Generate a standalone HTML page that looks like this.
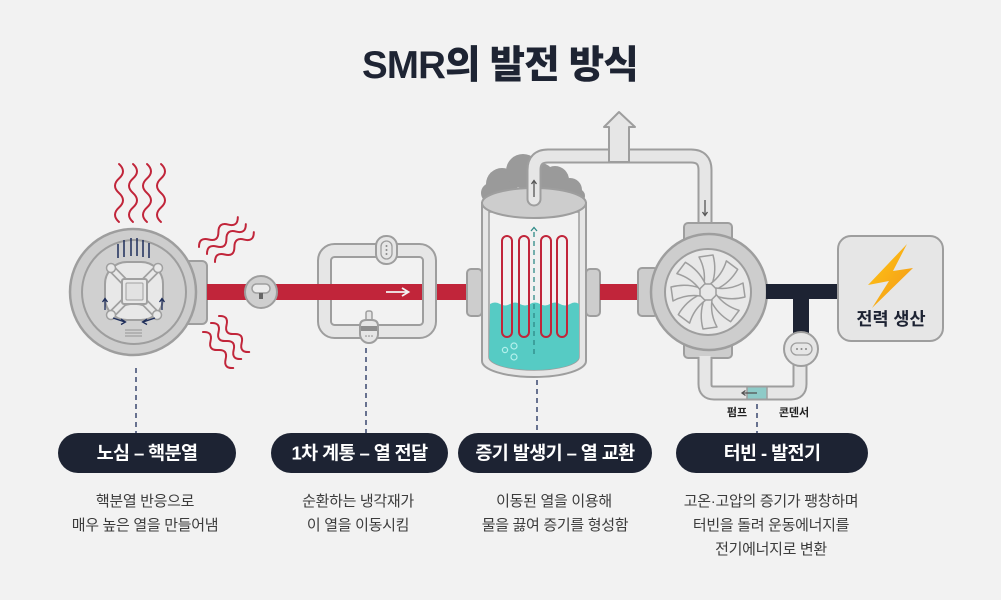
<!DOCTYPE html>
<html><head><meta charset="utf-8">
<style>
html,body{margin:0;padding:0;background:#f2f2f2;}
svg{display:block;}
text{font-family:"Liberation Sans","Noto Sans CJK KR",sans-serif;}
</style></head>
<body>
<svg width="1001" height="600" viewBox="0 0 1001 600" xmlns="http://www.w3.org/2000/svg">
<defs>
<linearGradient id="bolt" x1="0" y1="0" x2="1" y2="1">
<stop offset="0" stop-color="#ffc914"/><stop offset="1" stop-color="#f39419"/>
</linearGradient>
</defs>
<rect width="1001" height="600" fill="#f2f2f2"/>

<!-- Title -->
<text x="500" y="78" text-anchor="middle" font-size="38.5" font-weight="800" fill="#1e2433" letter-spacing="-0.8">SMR의 발전 방식</text>

<!-- Heat waves -->
<g fill="none" stroke="#c1253a" stroke-width="2" stroke-linecap="round">
<path transform="translate(119,222) rotate(-90)" d="M0 0 q7.25 -8 14.5 0 t14.5 0 t14.5 0 t14.5 0"/>
<path transform="translate(133,222) rotate(-90)" d="M0 0 q7.25 -8 14.5 0 t14.5 0 t14.5 0 t14.5 0"/>
<path transform="translate(147,222) rotate(-90)" d="M0 0 q7.25 -8 14.5 0 t14.5 0 t14.5 0 t14.5 0"/>
<path transform="translate(161,222) rotate(-90)" d="M0 0 q7.25 -8 14.5 0 t14.5 0 t14.5 0 t14.5 0"/>
<path transform="translate(199,247) rotate(-37.6)" d="M0 0 q6.1 -8 12.25 0 t12.25 0 t12.25 0 t12.25 0"/>
<path transform="translate(207,254) rotate(-37.6)" d="M0 0 q6.1 -8 12.25 0 t12.25 0 t12.25 0 t12.25 0"/>
<path transform="translate(215,262) rotate(-37.6)" d="M0 0 q6.1 -8 12.25 0 t12.25 0 t12.25 0 t12.25 0"/>
<path transform="translate(203,332) rotate(50)" d="M0 0 q5.9 -8 11.75 0 t11.75 0 t11.75 0 t11.75 0"/>
<path transform="translate(211,323) rotate(50)" d="M0 0 q5.9 -8 11.75 0 t11.75 0 t11.75 0 t11.75 0"/>
<path transform="translate(219,316) rotate(50)" d="M0 0 q5.9 -8 11.75 0 t11.75 0 t11.75 0 t11.75 0"/>
</g>

<!-- Reactor -->
<rect x="180" y="261" width="27" height="63" rx="5" fill="#cdcdcd" stroke="#9e9e9e" stroke-width="2"/>
<circle cx="133" cy="292" r="63" fill="#cdcdcd" stroke="#9e9e9e" stroke-width="2.5"/>
<circle cx="134" cy="292" r="52" fill="#d0d0d0" stroke="#9e9e9e" stroke-width="2"/>
<rect x="105" y="262" width="58" height="58" rx="22" fill="#e8e8e8" stroke="#a0a0a0" stroke-width="2"/>
<path d="M112 312 Q134 296 156 312" fill="none" stroke="#a0a0a0" stroke-width="1.5"/>
<g stroke-linecap="round">
<line x1="111" y1="268" x2="157" y2="315" stroke="#a0a0a0" stroke-width="8"/>
<line x1="158" y1="268" x2="111" y2="315" stroke="#a0a0a0" stroke-width="8"/>
<line x1="111" y1="268" x2="157" y2="315" stroke="#e8e8e8" stroke-width="4.5"/>
<line x1="158" y1="268" x2="111" y2="315" stroke="#e8e8e8" stroke-width="4.5"/>
</g>
<g fill="#e8e8e8" stroke="#a0a0a0" stroke-width="1.5">
<circle cx="111" cy="268" r="4.5"/><circle cx="158" cy="268" r="4.5"/>
<circle cx="111" cy="315" r="4.5"/><circle cx="157" cy="315" r="4.5"/>
<rect x="122" y="279" width="25" height="25" rx="2" stroke-width="2"/>
<rect x="126" y="283" width="17" height="17" rx="1" fill="#e2e2e2" stroke-width="1"/>
</g>
<g stroke="#1e2d5a" stroke-width="1.5">
<line x1="118" y1="244" x2="118" y2="258"/><line x1="124" y1="240" x2="124" y2="257"/>
<line x1="131" y1="238" x2="131" y2="256"/><line x1="137" y1="238" x2="137" y2="256"/>
<line x1="143" y1="240" x2="143" y2="257"/><line x1="149" y1="243" x2="149" y2="258"/>
</g>
<g stroke="#1e2d5a" stroke-width="1.3" fill="none">
<line x1="105" y1="310" x2="105" y2="299"/><path d="M102.5 302 L105 298.5 L107.5 302"/>
<line x1="162" y1="310" x2="162" y2="299"/><path d="M159.5 302 L162 298.5 L164.5 302"/>
<line x1="113" y1="318" x2="125" y2="322"/><path d="M121 319 L125.5 322 L121 324.5"/>
<line x1="155" y1="318" x2="143" y2="322"/><path d="M147 319 L142.5 322 L147 324.5"/>
</g>
<g stroke="#a0a0a0" stroke-width="1.2">
<line x1="125" y1="330" x2="142" y2="330"/><line x1="125" y1="333" x2="142" y2="333"/><line x1="125" y1="336" x2="142" y2="336"/>
</g>

<!-- Loop (primary) -->
<rect x="324.5" y="250.5" width="105" height="81" rx="10" fill="none" stroke="#9e9e9e" stroke-width="15"/>
<rect x="324.5" y="250.5" width="105" height="81" rx="10" fill="none" stroke="#e6e6e6" stroke-width="11"/>

<!-- red pipe 1 -->
<rect x="207" y="284" width="261" height="16" fill="#c1253a"/>
<!-- right loop segment over red -->
<rect x="423" y="281" width="13" height="22" fill="#e6e6e6"/>
<line x1="423" y1="281" x2="423" y2="303" stroke="#9e9e9e" stroke-width="2"/>
<line x1="436" y1="281" x2="436" y2="303" stroke="#9e9e9e" stroke-width="2"/>
<!-- arrow on red -->
<g stroke="#f2f2f2" stroke-width="1.8" fill="none">
<line x1="386" y1="292" x2="408" y2="292"/><path d="M402 288 L408.5 292 L402 296"/>
</g>

<!-- valve on red -->
<circle cx="261" cy="292" r="16" fill="#cfcfcf" stroke="#9e9e9e" stroke-width="2"/>
<rect x="252" y="284" width="18" height="9" rx="4.5" fill="#ececec" stroke="#9e9e9e" stroke-width="1.5"/>
<rect x="259" y="293" width="4" height="6" fill="#666"/>

<!-- loop gauge top -->
<rect x="376" y="236" width="21" height="28" rx="10" fill="#e6e6e6" stroke="#9e9e9e" stroke-width="2"/>
<rect x="381" y="241" width="11" height="18" rx="5.5" fill="none" stroke="#9e9e9e" stroke-width="1.3"/>
<g fill="#888"><circle cx="386.5" cy="246" r="1"/><circle cx="386.5" cy="250" r="1"/><circle cx="386.5" cy="254" r="1"/></g>
<!-- flask bottom -->
<rect x="366" y="311" width="6" height="11" rx="2" fill="#e6e6e6" stroke="#9e9e9e" stroke-width="1.5"/>
<path d="M360 326 Q360 320 366 320 L372 320 Q378 320 378 326 L378 334 A9 9 0 0 1 360 334 Z" fill="#e6e6e6" stroke="#9e9e9e" stroke-width="2"/>
<rect x="361" y="326" width="16" height="5" fill="#8e8e8e"/>
<g fill="#888"><circle cx="366" cy="336" r="0.8"/><circle cx="369" cy="336" r="0.8"/><circle cx="372" cy="336" r="0.8"/></g>

<!-- Steam generator -->
<g fill="#9a9a9a">
<circle cx="491" cy="193" r="10"/><circle cx="502" cy="184" r="16"/><circle cx="523" cy="171" r="17"/>
<circle cx="540" cy="178" r="15"/><circle cx="555" cy="180" r="14"/><circle cx="570" cy="190" r="12"/>
<circle cx="578" cy="196" r="7"/>
</g>
<rect x="467" y="269" width="15" height="47" rx="4" fill="#cdcdcd" stroke="#9e9e9e" stroke-width="2"/>
<rect x="586" y="269" width="14" height="47" rx="4" fill="#cdcdcd" stroke="#9e9e9e" stroke-width="2"/>
<path d="M482 203 L482 361 A52 16 0 0 0 586 361 L586 203 Z" fill="#e6e6e6" stroke="#9e9e9e" stroke-width="2"/>
<path d="M489 212 L489 357 A45 13 0 0 0 579 357 L579 212 Z" fill="#f1f1f1" stroke="#9e9e9e" stroke-width="1.5"/>
<path d="M490 304 q5 -3 10 0 t10 0 t10 0 t10 0 t10 0 t10 0 t10 0 t10 0 t9 0 L579 357 A45 13 0 0 1 489 357 Z" fill="#56cbc4"/>
<g fill="none" stroke="#c1253a" stroke-width="2">
<rect x="502" y="236" width="10" height="101" rx="5"/>
<rect x="519" y="236" width="10" height="101" rx="5"/>
<rect x="541" y="236" width="10" height="101" rx="5"/>
<rect x="557" y="236" width="10" height="101" rx="5"/>
</g>
<line x1="534" y1="232" x2="534" y2="358" stroke="#2e8a87" stroke-width="1.3" stroke-dasharray="5 4"/>
<path d="M531 231 L534 227.5 L537 231" fill="none" stroke="#2e8a87" stroke-width="1.3"/>
<g fill="none" stroke="#b3f0ec" stroke-width="1.2">
<circle cx="505" cy="350" r="2.6"/><circle cx="514" cy="346" r="3"/><circle cx="514" cy="357" r="3"/>
</g>
<ellipse cx="534" cy="203" rx="52" ry="15" fill="#cdcdcd" stroke="#9e9e9e" stroke-width="2"/>

<!-- red pipe 2 -->
<rect x="600" y="284" width="42" height="16" fill="#c1253a"/>

<!-- steam pipe -->
<path d="M534 199 L534 170 Q534 156 548 156 L691 156 Q705 156 705 170 L705 228" fill="none" stroke="#9e9e9e" stroke-width="15" stroke-linecap="round"/>
<path d="M534 199 L534 170 Q534 156 548 156 L691 156 Q705 156 705 170 L705 228" fill="none" stroke="#e6e6e6" stroke-width="11" stroke-linecap="round"/>
<polygon points="609,162 609,127 604,127 619,112 635,127 629,127 629,162" fill="#e6e6e6" stroke="#9e9e9e" stroke-width="2" stroke-linejoin="round"/>
<g stroke="#555" stroke-width="1.3" fill="none">
<line x1="534" y1="181" x2="534" y2="197"/><path d="M531.5 184 L534 180.5 L536.5 184"/>
<line x1="705" y1="200" x2="705" y2="215"/><path d="M702.5 212 L705 215.5 L707.5 212"/>
</g>

<!-- Turbine -->
<rect x="638" y="268" width="20" height="48" rx="4" fill="#cdcdcd" stroke="#9e9e9e" stroke-width="2"/>
<rect x="684" y="223" width="48" height="20" rx="4" fill="#cdcdcd" stroke="#9e9e9e" stroke-width="2"/>
<rect x="684" y="340" width="48" height="18" rx="4" fill="#cdcdcd" stroke="#9e9e9e" stroke-width="2"/>
<circle cx="709" cy="292" r="58" fill="#cdcdcd" stroke="#9e9e9e" stroke-width="2.5"/>
<circle cx="708" cy="292" r="43" fill="#e8e8e8" stroke="#9e9e9e" stroke-width="2"/>
<g transform="translate(708,292)" fill="#e8e8e8" stroke="#9e9e9e" stroke-width="1.5" stroke-linejoin="round">
<path d="M-4 -8 Q-2 -22 -9 -35 L5 -37 Q9 -22 4 -8 Z"/>
<path transform="rotate(45)" d="M-4 -8 Q-2 -22 -9 -35 L5 -37 Q9 -22 4 -8 Z"/>
<path transform="rotate(90)" d="M-4 -8 Q-2 -22 -9 -35 L5 -37 Q9 -22 4 -8 Z"/>
<path transform="rotate(135)" d="M-4 -8 Q-2 -22 -9 -35 L5 -37 Q9 -22 4 -8 Z"/>
<path transform="rotate(180)" d="M-4 -8 Q-2 -22 -9 -35 L5 -37 Q9 -22 4 -8 Z"/>
<path transform="rotate(225)" d="M-4 -8 Q-2 -22 -9 -35 L5 -37 Q9 -22 4 -8 Z"/>
<path transform="rotate(270)" d="M-4 -8 Q-2 -22 -9 -35 L5 -37 Q9 -22 4 -8 Z"/>
<path transform="rotate(315)" d="M-4 -8 Q-2 -22 -9 -35 L5 -37 Q9 -22 4 -8 Z"/>
</g>

<!-- return pipe -->
<path d="M705 357 L705 384 Q705 393 714 393 L791 393 Q800 393 800 384 L800 362" fill="none" stroke="#9e9e9e" stroke-width="15"/>
<path d="M705 356 L705 384 Q705 393 714 393 L791 393 Q800 393 800 384 L800 361" fill="none" stroke="#e6e6e6" stroke-width="11"/>
<rect x="747" y="387.5" width="20" height="11" fill="#8ecbc8"/>
<line x1="747" y1="387" x2="747" y2="399" stroke="#9e9e9e" stroke-width="1.5"/>
<line x1="767" y1="387" x2="767" y2="399" stroke="#9e9e9e" stroke-width="1.5"/>
<g stroke="#555" stroke-width="1.3" fill="none">
<line x1="742" y1="393" x2="757" y2="393"/><path d="M745.5 390.5 L742 393 L745.5 395.5"/>
</g>

<!-- navy T -->
<rect x="766" y="284" width="74" height="15" fill="#1d2333"/>
<rect x="793" y="284" width="16" height="52" fill="#1d2333"/>
<!-- condenser -->
<circle cx="801" cy="349" r="17" fill="#e6e6e6" stroke="#9e9e9e" stroke-width="2"/>
<rect x="791" y="343" width="21" height="12" rx="6" fill="none" stroke="#9e9e9e" stroke-width="1.3"/>
<g fill="#888"><circle cx="797" cy="349" r="1"/><circle cx="801.5" cy="349" r="1"/><circle cx="806" cy="349" r="1"/></g>

<!-- power box -->
<rect x="838" y="236" width="105" height="105" rx="13" fill="#e6e6e6" stroke="#9e9e9e" stroke-width="2"/>
<polygon points="907,244 868,285 889,281 872,308 913,268 893,271" fill="url(#bolt)"/>
<text x="891" y="325" text-anchor="middle" font-size="17.5" font-weight="700" fill="#1d2333">전력 생산</text>

<!-- small labels -->
<text x="737" y="416" text-anchor="middle" font-size="11" font-weight="700" fill="#222">펌프</text>
<text x="794" y="416" text-anchor="middle" font-size="11" font-weight="700" fill="#222">콘덴서</text>

<!-- dashed leader lines -->
<g stroke="#1e2d5a" stroke-width="1.3" stroke-dasharray="5 4">
<line x1="136" y1="368" x2="136" y2="433"/>
<line x1="366" y1="348" x2="366" y2="433"/>
<line x1="537" y1="380" x2="537" y2="433"/>
<line x1="757" y1="404" x2="757" y2="433"/>
</g>

<!-- pills -->
<g fill="#1d2333">
<rect x="58" y="433" width="178" height="40" rx="20"/>
<rect x="271" y="433" width="177" height="40" rx="20"/>
<rect x="458" y="433" width="194" height="40" rx="20"/>
<rect x="676" y="433" width="192" height="40" rx="20"/>
</g>
<g fill="#ffffff" font-size="18.5" font-weight="700" text-anchor="middle" letter-spacing="-0.6">
<text x="147" y="459.5">노심 – 핵분열</text>
<text x="359.5" y="459.5">1차 계통 – 열 전달</text>
<text x="555" y="459.5">증기 발생기 – 열 교환</text>
<text x="772" y="459.5">터빈 - 발전기</text>
</g>

<!-- descriptions -->
<g fill="#3c3c3c" font-size="15" text-anchor="middle" letter-spacing="-0.3">
<text x="145" y="506">핵분열 반응으로</text>
<text x="145" y="530">매우 높은 열을 만들어냄</text>
<text x="358" y="506">순환하는 냉각재가</text>
<text x="358" y="530">이 열을 이동시킴</text>
<text x="554" y="506">이동된 열을 이용해</text>
<text x="555" y="530">물을 끓여 증기를 형성함</text>
<text x="771" y="506">고온·고압의 증기가 팽창하며</text>
<text x="771" y="530">터빈을 돌려 운동에너지를</text>
<text x="771" y="554">전기에너지로 변환</text>
</g>
</svg>
</body></html>
